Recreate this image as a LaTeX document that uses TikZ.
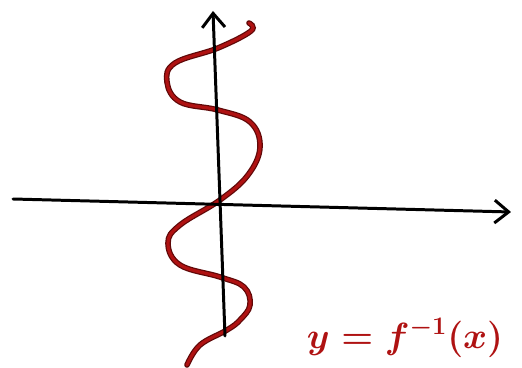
\documentclass[tikz,border=0pt]{standalone}
\usepackage{amsmath}
\usepackage{tikz}
\usetikzlibrary{arrows.meta}

\definecolor{inkred}{RGB}{175,18,18}
\definecolor{inkdark}{RGB}{95,8,8}

\begin{document}
\begin{tikzpicture}[x=0.02cm, y=-0.02cm,
    axis/.style={line width=1.7pt, line cap=round, -{Straight Barb[length=8pt, width=13pt, line width=1.7pt]}},
    curve/.style={line width=3.2pt, line cap=round, inkdark},
    curvein/.style={line width=1.8pt, line cap=round, inkred}]
        \useasboundingbox (0,0) rectangle (522,368);

        \coordinate (xl) at (13,199);
        \coordinate (xr) at (511,212);
        \coordinate (yb) at (225,336);
        \coordinate (yt) at (213,11);

        % the curve
        \foreach \s in {curve, curvein}
            \draw[\s] plot[smooth, tension=0.65] coordinates {(249,23) (251,31) (218,48) (175,63) (167,82) (180,102)
                (218,110) (250,122) (260,147) (248,175) (220,200) (180,225) (168,243) (180,265)
                (220,277) (244,287) (250,305) (240,320) (227,330) (200,345) (187,365)};

        % axes
        \draw[axis] (xl) -- (xr);
        \draw[axis] (yb) -- (yt);

        \node[inkred, font={\fontsize{20}{24}\selectfont\boldmath}] (lbl) at (405,338) {$y = f^{-1}(x)$};
    \end{tikzpicture}
\end{document}
